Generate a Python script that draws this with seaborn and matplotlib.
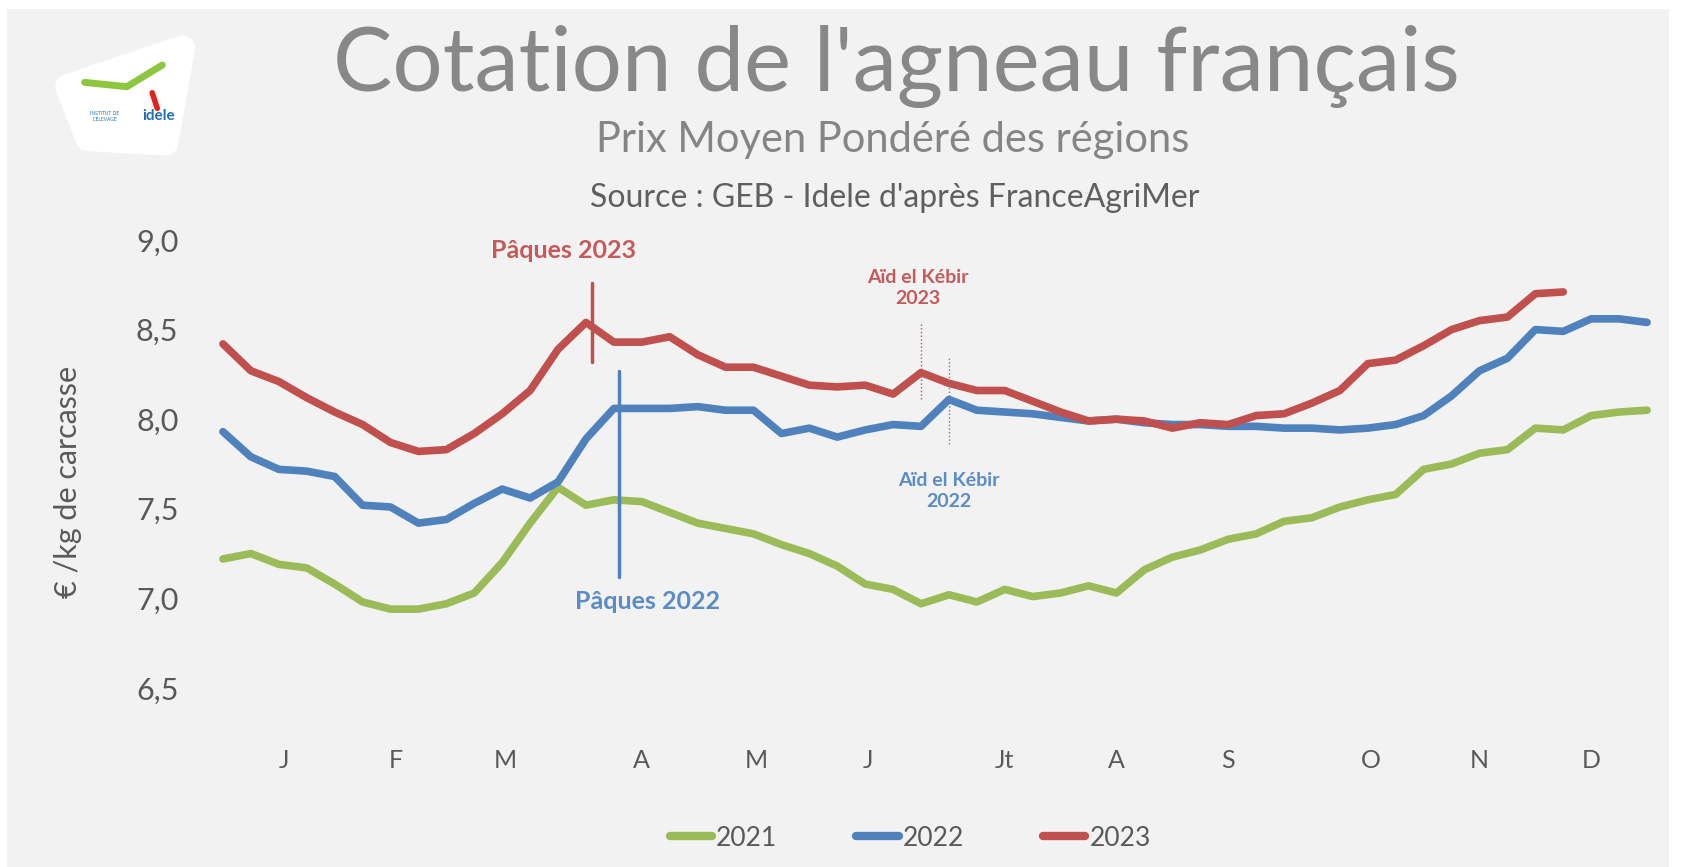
import matplotlib.pyplot as plt
import seaborn as sns
import pandas as pd
from matplotlib.patches import Polygon, Rectangle
from matplotlib.lines import Line2D

# Cotation hebdomadaire (EUR/kg de carcasse), semaines 1 a 52
prix_2021 = [7.22, 7.25, 7.19, 7.17, 7.08, 6.98, 6.94, 6.94, 6.97, 7.03,
             7.20, 7.42, 7.62, 7.52, 7.55, 7.54, 7.48, 7.42, 7.39, 7.36,
             7.30, 7.25, 7.18, 7.08, 7.05, 6.97, 7.02, 6.98, 7.05, 7.01,
             7.03, 7.07, 7.03, 7.16, 7.23, 7.27, 7.33, 7.36, 7.43, 7.45,
             7.51, 7.55, 7.58, 7.72, 7.75, 7.81, 7.83, 7.95, 7.94, 8.02,
             8.04, 8.05]
prix_2022 = [7.93, 7.79, 7.72, 7.71, 7.68, 7.52, 7.51, 7.42, 7.44, 7.53,
             7.61, 7.56, 7.65, 7.89, 8.06, 8.06, 8.06, 8.07, 8.05, 8.05,
             7.92, 7.95, 7.90, 7.94, 7.97, 7.96, 8.11, 8.05, 8.04, 8.03,
             8.01, 7.99, 8.00, 7.98, 7.97, 7.97, 7.96, 7.96, 7.95, 7.95,
             7.94, 7.95, 7.97, 8.02, 8.13, 8.27, 8.34, 8.50, 8.49, 8.56,
             8.56, 8.54]
prix_2023 = [8.42, 8.27, 8.21, 8.12, 8.04, 7.97, 7.87, 7.82, 7.83, 7.92,
             8.03, 8.16, 8.39, 8.54, 8.43, 8.43, 8.46, 8.36, 8.29, 8.29,
             8.24, 8.19, 8.18, 8.19, 8.14, 8.26, 8.20, 8.16, 8.16, 8.10,
             8.04, 7.99, 8.00, 7.99, 7.95, 7.98, 7.97, 8.02, 8.03, 8.09,
             8.16, 8.31, 8.33, 8.41, 8.50, 8.55, 8.57, 8.70, 8.71]

mois = ['J', 'F', 'M', 'A', 'M', 'J', 'Jt', 'A', 'S', 'O', 'N', 'D']
mois_pos = [3.2, 7.2, 11.1, 16.0, 20.1, 24.1, 29.0, 33.0, 37.0, 42.1, 46.0, 50.0]

frames = []
for annee, prix in [('2021', prix_2021), ('2022', prix_2022), ('2023', prix_2023)]:
    frames.append(pd.DataFrame({'semaine': range(1, len(prix) + 1),
                                'prix': prix, 'annee': annee}))
df = pd.concat(frames, ignore_index=True)

vert, bleu, rouge = '#9bbb59', '#4f81bd', '#c0504d'
palette = {'2021': vert, '2022': bleu, '2023': rouge}

sns.set_theme(style='white')
plt.rcParams['font.family'] = ['Lato', 'DejaVu Sans']

fig = plt.figure(figsize=(16.91, 8.67), dpi=100, facecolor='white')
fig.add_artist(Rectangle((0.004, 0.0), 0.983, 0.99, transform=fig.transFigure,
                         facecolor='#f2f2f2', edgecolor='none', zorder=-10))

ax = fig.add_axes([209 / 1691, 0.2065, 1452 / 1691, 0.5167])
ax.set_facecolor('#f2f2f2')

sns.lineplot(data=df, x='semaine', y='prix', hue='annee', palette=palette,
             linewidth=5.5, ax=ax, solid_capstyle='round')

ax.set_xlim(0.5, 52.5)
ax.set_ylim(6.5, 9.0)
ax.set_yticks([6.5, 7.0, 7.5, 8.0, 8.5, 9.0])
ax.set_yticklabels(['6,5', '7,0', '7,5', '8,0', '8,5', '9,0'])
ax.set_xticks(mois_pos)
ax.set_xticklabels(mois)
ax.tick_params(axis='y', length=0, pad=22, labelsize=22, labelcolor='#595959')
ax.tick_params(axis='x', length=0, pad=44, labelsize=18, labelcolor='#595959')
ax.set_xlabel('')
ax.set_ylabel('')
for s in ax.spines.values():
    s.set_visible(False)

fig.text(0.040, 0.444, '€ /kg de carcasse', rotation=90, ha='center', va='center',
         fontsize=22, color='#595959')

# Evenements
ax.plot([14.2, 14.2], [8.32, 8.76], color=rouge, lw=2.5)
ax.text(13.2, 8.94, 'Pâques 2023', color='#c55a5a', fontsize=18, fontweight='bold',
        ha='center', va='center')
ax.plot([15.2, 15.2], [7.12, 8.27], color=bleu, lw=2.5)
ax.text(16.2, 6.98, 'Pâques 2022', color='#5b8cc4', fontsize=18, fontweight='bold',
        ha='center', va='center')
ax.plot([26.0, 26.0], [8.11, 8.54], color=rouge, lw=1, ls=':')
ax.text(25.9, 8.73, 'Aïd el Kébir\n2023', color='#c55a5a', fontsize=14,
        fontweight='bold', ha='center', va='center', linespacing=1.3)
ax.plot([27.0, 27.0], [7.86, 8.34], color='#6a7f99', lw=1, ls=':')
ax.text(27.0, 7.60, 'Aïd el Kébir\n2022', color='#5b8cc4', fontsize=14,
        fontweight='bold', ha='center', va='center', linespacing=1.3)

leg = ax.legend(loc='center', bbox_to_anchor=(0.483, -0.335), ncol=3, frameon=False,
                handlelength=1.6, handletextpad=0.15, columnspacing=3.0, fontsize=19)
for t in leg.get_texts():
    t.set_color('#595959')
for h in leg.legend_handles:
    h.set_linewidth(6)
    h.set_solid_capstyle('round')

# Titres
fig.text(0.530, 0.923, "Cotation de l'agneau français", ha='center', va='center',
         fontsize=64, color='#888888')
fig.text(0.528, 0.838, 'Prix Moyen Pondéré des régions', ha='center', va='center',
         fontsize=30, color='#858585')
fig.text(0.529, 0.772, "Source : GEB - Idele d'après FranceAgriMer", ha='center',
         va='center', fontsize=23, color='#5f5f5f')

# Logo
blob = Polygon([(0.040, 0.900), (0.108, 0.945), (0.098, 0.835), (0.052, 0.840)],
               closed=True, transform=fig.transFigure, facecolor='white',
               edgecolor='white', lw=18, joinstyle='round', zorder=5)
fig.add_artist(blob)
fig.add_artist(Line2D([0.050, 0.075, 0.096], [0.905, 0.900, 0.925],
                      transform=fig.transFigure, color='#8dc63f', lw=5,
                      solid_capstyle='round', zorder=6))
fig.add_artist(Line2D([0.090, 0.093], [0.893, 0.875], transform=fig.transFigure,
                      color='#e2231a', lw=4, solid_capstyle='round', zorder=6))
fig.text(0.094, 0.866, 'idele', ha='center', va='center', fontsize=11,
         fontweight='bold', color='#1f6fb5', zorder=7)
fig.text(0.062, 0.866, "INSTITUT DE\nL'ÉLEVAGE", ha='center', va='center',
         fontsize=3.5, color='#1f6fb5', zorder=7)

fig.savefig('out.png', dpi=100, facecolor=fig.get_facecolor())
